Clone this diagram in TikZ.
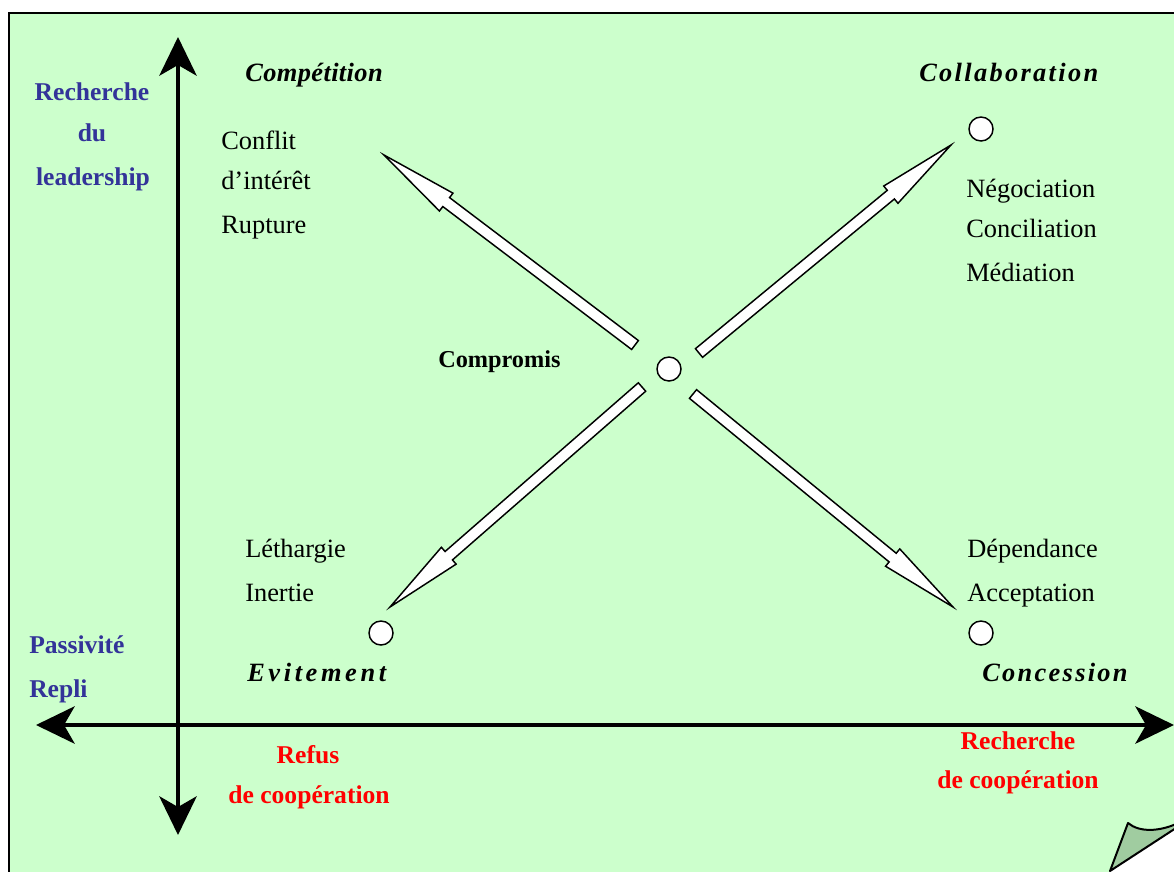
\documentclass[tikz,border=0pt]{standalone}
\usepackage{fontspec}
\setmainfont{Liberation Serif}
\usetikzlibrary{calc,arrows.meta}
\definecolor{bggreen}{RGB}{204,255,204}
\definecolor{foldgreen}{RGB}{160,204,160}
\definecolor{axisblue}{RGB}{51,51,153}
\definecolor{axisred}{RGB}{255,0,0}
\tikzset{
  txt/.style={anchor=base west, inner sep=0pt, font=\fontsize{19.8}{24}\selectfont},
  btxt/.style={anchor=base, inner sep=0pt, font=\fontsize{19.2}{22}\selectfont\bfseries},
  bluetxt/.style={btxt, text=axisblue},
  bluetxtl/.style={bluetxt, anchor=base west},
  redtxt/.style={btxt, text=axisred},
  headtxt/.style={anchor=base west, inner sep=0pt, font=\fontsize{19.8}{24}\selectfont\bfseries\itshape},
  dot/.style={circle, draw, fill=white, line width=1.1pt, minimum size=18pt, inner sep=0pt},
  axisline/.style={line width=3pt, {Stealth[length=29pt,width=28pt,inset=8pt]}-{Stealth[length=29pt,width=28pt,inset=8pt]}},
  blockarrowline/.style={draw, fill=white, line width=1.1pt, line join=miter},
}
\newcommand{\drawBlockArrow}[2]{%
  \path ($(#2)!58.5pt!(#1)$) coordinate (BAbase);
  \draw[blockarrowline]
    ($(#1)!4.2pt!90:(#2)$) --
    ($(BAbase)!4.2pt!90:(#2)$) --
    ($(BAbase)!8.4pt!90:(#2)$) --
    (#2) --
    ($(BAbase)!8.4pt!-90:(#2)$) --
    ($(BAbase)!4.2pt!-90:(#2)$) --
    ($(#1)!4.2pt!-90:(#2)$) -- cycle;
}
\begin{document}
\begin{tikzpicture}[x=0.75pt,y=-0.75pt]
\useasboundingbox (0,0) rectangle (1174,871);
\clip (0,0) rectangle (1174,871);
% page
\draw[line width=1.5pt, fill=bggreen] (9,13) rectangle (1190,890);
% folded corner
\fill[white] (1174,829) -- (1174,875) -- (1108,875) -- (1110,871) -- cycle;
\draw[line width=1.5pt, fill=foldgreen, line join=round]
  (1110,871) -- (1128,823) .. controls (1140,833) and (1160,831) .. (1176,824)
  -- (1176,828) -- cycle;
% axes
\coordinate (vTop) at (178,37);
\coordinate (vBot) at (178,835);
\coordinate (hLeft) at (36,725);
\coordinate (hRight) at (1174,725);
\draw[axisline] (vBot) -- (vTop);
\draw[axisline] (hLeft) -- (hRight);
% circles
\node[dot] (cMid) at (669,369) {};
\node[dot] (cNE) at (981,129) {};
\node[dot] (cSE) at (981,633) {};
\node[dot] (cSW) at (381,633) {};
% block arrows
\coordinate (nwTail) at (635,345);
\coordinate (nwTip) at (384,155);
\coordinate (neTail) at (699,353);
\coordinate (neTip) at (951,145);
\coordinate (swTail) at (642,387);
\coordinate (swTip) at (390,607);
\coordinate (seTail) at (693,394);
\coordinate (seTip) at (953,607);
\drawBlockArrow{nwTail}{nwTip}
\drawBlockArrow{neTail}{neTip}
\drawBlockArrow{swTail}{swTip}
\drawBlockArrow{seTail}{seTip}
% headings
\node[headtxt] (hComp) at (245,81) {\addfontfeature{LetterSpace=1.5}Compétition};
\node[headtxt] (hColl) at (919,81) {\addfontfeature{LetterSpace=8.8}Collaboration};
\node[headtxt] (hEvit) at (247,681) {\addfontfeature{LetterSpace=13.7}Evitement};
\node[headtxt] (hConc) at (982,681) {\addfontfeature{LetterSpace=8.7}Concession};
% regular texts
\node[txt] (tConflit) at (221,149) {Conflit};
\node[txt] (tInteret) at (221,189) {d’intérêt};
\node[txt] (tRupture) at (221,233) {Rupture};
\node[txt] (tNego) at (966,197) {Négociation};
\node[txt] (tConcil) at (966,237) {Conciliation};
\node[txt] (tMedia) at (966,281) {Médiation};
\node[txt] (tLeth) at (245,557) {Léthargie};
\node[txt] (tInert) at (245,601) {Inertie};
\node[txt] (tDepend) at (967,557) {Dépendance};
\node[txt] (tAccept) at (967,601) {Acceptation};
\node[anchor=base west, inner sep=0pt, font=\fontsize{18.2}{22}\selectfont\bfseries] (tCompromis) at (438,367) {Compromis};
% blue axis labels
\node[bluetxt] (bRech) at (92,100) {Recherche};
\node[bluetxt] (bDu) at (92,141) {du};
\node[bluetxt] (bLead) at (93,185) {leadership};
\node[bluetxtl] (bPass) at (29,653) {Passivité};
\node[bluetxtl] (bRepli) at (29,697) {Repli};
% red axis labels
\node[redtxt] (rRefus) at (308,763) {Refus};
\node[redtxt] (rCoop1) at (309,803) {de coopération};
\node[redtxt] (rRech) at (1018,749) {Recherche};
\node[redtxt] (rCoop2) at (1018,788) {de coopération};
\end{tikzpicture}
\end{document}
